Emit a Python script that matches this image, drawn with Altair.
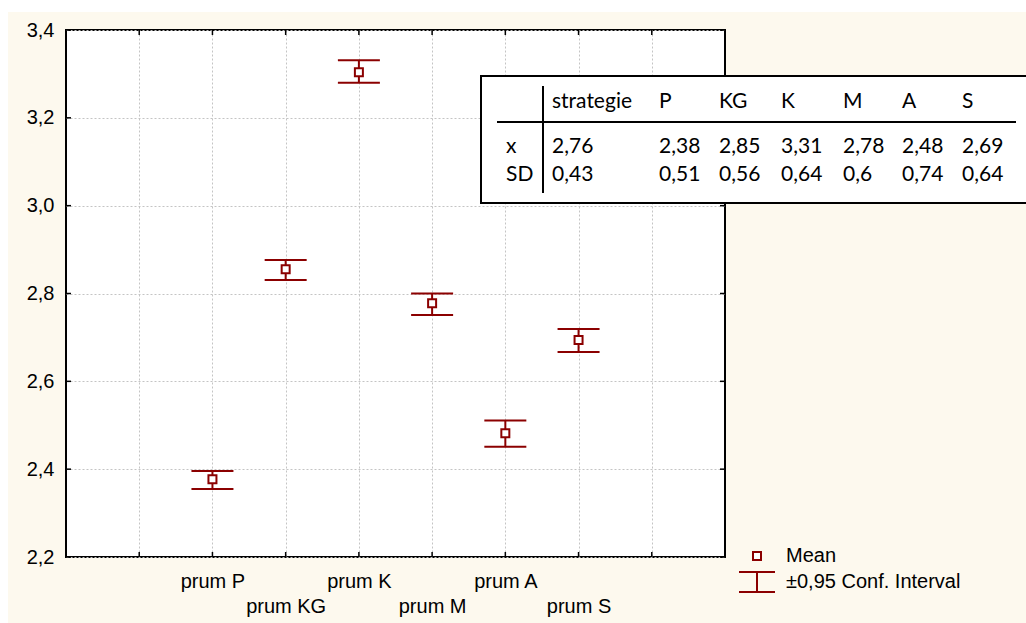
import altair as alt
import pandas as pd

# ---------------- data ----------------
categories = ["prum P", "prum KG", "prum K", "prum M", "prum A", "prum S"]
positions = [2, 3, 4, 5, 6, 7]
means = [2.377, 2.855, 3.304, 2.778, 2.482, 2.694]
lower = [2.355, 2.831, 3.280, 2.751, 2.451, 2.667]
upper = [2.396, 2.876, 3.331, 2.800, 2.511, 2.719]

grid_positions = [1, 2, 3, 4, 5, 6, 7, 8]
y_ticks = [2.2, 2.4, 2.6, 2.8, 3.0, 3.2, 3.4]

table_header = ["", "strategie", "P", "KG", "K", "M", "A", "S"]
table_row_x = ["x", "2,76", "2,38", "2,85", "3,31", "2,78", "2,48", "2,69"]
table_row_sd = ["SD", "0,43", "0,51", "0,56", "0,64", "0,6", "0,74", "0,64"]

legend_labels = ["Mean", "±0,95 Conf. Interval"]

# ---------------- layout / style ----------------
DR = "#8B0000"
CREAM = "#FDF9EE"
GRID = "#c4c4c4"
AX_FONT = "Liberation Sans"
TB_FONT = "Lato"
PL, PT = 66, 30          # plot origin in the canvas
W, H = 659, 527          # plot size
CANVAS_W, CANVAS_H = 1026, 623
TABLE_COL_X = [506, 552, 659, 719, 781, 843, 902, 962]   # canvas px
TABLE_ROW_Y = [102, 147, 175]                            # canvas px
LEG_SYM_X, LEG_TXT_X = 757, 786
LEG_ROW_Y = [556, 582]

SQ = "M-0.4,-0.4H0.4V0.4H-0.4Z"
IBEAM = "M-1.8,-1H1.8M0,-1V1M-1.8,1H1.8"

df = pd.DataFrame({
    "cat": categories, "pos": positions, "mean": means,
    "lower": lower, "upper": upper,
})
grid_df = pd.DataFrame({"p": grid_positions})
yt_df = pd.DataFrame({"v": y_ticks})

xscale = alt.Scale(domain=[0, 9], nice=False, zero=False)
yscale = alt.Scale(domain=[2.2, 3.4], nice=False, zero=False)

# x labels, staggered on two lines
items = []
for i in range(10):
    if i in positions:
        k = positions.index(i)
        name = categories[k].replace("'", "\\'")
        items.append(f"'{name}'" if k % 2 == 0 else f"['', '{name}']")
    else:
        items.append("''")
x_label_expr = "[" + ",".join(items) + "][datum.value]"

x_axis = alt.Axis(
    values=grid_positions, labelExpr=x_label_expr, title=None,
    grid=True, gridColor=GRID, gridDash=[2, 2], gridWidth=1,
    ticks=False, domain=False, labelFont=AX_FONT, labelFontSize=20,
    labelColor="black", labelPadding=14, labelLineHeight=25,
    labelOverlap=False, labelBound=False, labelFlush=False, labelBaseline="top",
)
y_axis = alt.Axis(
    values=y_ticks, labelExpr="replace(format(datum.value, '.1f'), '.', ',')",
    title=None, grid=True, gridColor=GRID, gridDash=[2, 2], gridWidth=1,
    ticks=False, domain=False, labelFont=AX_FONT, labelFontSize=20,
    labelColor="black", labelPadding=12, labelOverlap=False,
    labelBound=False, labelFlush=False,
)

one = pd.DataFrame({"a": [0]})
strip_left = alt.Chart(one).mark_rect(color="white").encode(
    x=alt.value(-PL), x2=alt.value(-PL + 8), y=alt.value(-PT), y2=alt.value(CANVAS_H - PT))
strip_top = alt.Chart(one).mark_rect(color="white").encode(
    x=alt.value(-PL), x2=alt.value(CANVAS_W - PL), y=alt.value(-PT), y2=alt.value(-PT + 12))

ticks_bottom = alt.Chart(grid_df).mark_rule(color="black", strokeWidth=1.5).encode(
    x=alt.X("p:Q", scale=xscale, axis=x_axis), y=alt.value(H - 5), y2=alt.value(H))
ticks_top = alt.Chart(grid_df).mark_rule(color="black", strokeWidth=1.5).encode(
    x=alt.X("p:Q", scale=xscale, axis=x_axis), y=alt.value(0), y2=alt.value(5))
ticks_left = alt.Chart(yt_df).mark_rule(color="black", strokeWidth=1.5).encode(
    y=alt.Y("v:Q", scale=yscale, axis=y_axis), x=alt.value(0), x2=alt.value(5))
ticks_right = alt.Chart(yt_df).mark_rule(color="black", strokeWidth=1.5).encode(
    y=alt.Y("v:Q", scale=yscale, axis=y_axis), x=alt.value(W - 5), x2=alt.value(W))

base = alt.Chart(df)
xenc = alt.X("pos:Q", scale=xscale, axis=x_axis)
stem = base.mark_rule(color=DR, strokeWidth=2).encode(
    x=xenc, y=alt.Y("lower:Q", scale=yscale, axis=y_axis), y2="upper:Q")
cap_hi = base.mark_rule(color=DR, strokeWidth=2, xOffset=-21, x2Offset=21).encode(
    x=xenc, x2="pos:Q", y=alt.Y("upper:Q", scale=yscale, axis=y_axis))
cap_lo = base.mark_rule(color=DR, strokeWidth=2, xOffset=-21, x2Offset=21).encode(
    x=xenc, x2="pos:Q", y=alt.Y("lower:Q", scale=yscale, axis=y_axis))
points = base.mark_point(shape=SQ, filled=True, fill="white", stroke=DR,
                         strokeWidth=2, size=400, opacity=1).encode(
    x=xenc, y=alt.Y("mean:Q", scale=yscale, axis=y_axis))

# legend (drawn as a small key)
leg_mean = alt.Chart(one).mark_point(shape=SQ, filled=True, fill="white", stroke=DR,
                                     strokeWidth=2, size=400, opacity=1).encode(
    x=alt.value(LEG_SYM_X - PL), y=alt.value(LEG_ROW_Y[0] - PT))
leg_ci = alt.Chart(one).mark_point(shape=IBEAM, filled=False, stroke=DR,
                                   strokeWidth=2, size=400, opacity=1).encode(
    x=alt.value(LEG_SYM_X - PL), y=alt.value(LEG_ROW_Y[1] - PT))
leg_t1 = alt.Chart(one).mark_text(text=legend_labels[0], align="left", baseline="middle",
                                  font=AX_FONT, fontSize=20, color="black").encode(
    x=alt.value(LEG_TXT_X - PL), y=alt.value(LEG_ROW_Y[0] - PT))
leg_t2 = alt.Chart(one).mark_text(text=legend_labels[1], align="left", baseline="middle",
                                  font=AX_FONT, fontSize=20, color="black").encode(
    x=alt.value(LEG_TXT_X - PL), y=alt.value(LEG_ROW_Y[1] - PT))

# table
box = alt.Chart(one).mark_rect(fill="white", stroke="black", strokeWidth=2).encode(
    x=alt.value(481 - PL), x2=alt.value(1045 - PL), y=alt.value(76 - PT), y2=alt.value(203 - PT))
hline = alt.Chart(one).mark_rule(color="black", strokeWidth=2).encode(
    x=alt.value(497 - PL), x2=alt.value(1016 - PL), y=alt.value(122 - PT))
vline = alt.Chart(one).mark_rule(color="black", strokeWidth=2).encode(
    x=alt.value(543 - PL), y=alt.value(86 - PT), y2=alt.value(193 - PT))

rows = [table_header, table_row_x, table_row_sd]
cells = []
for r, row in enumerate(rows):
    for c, txt in enumerate(row):
        cells.append({"text": txt, "cx": TABLE_COL_X[c] - PL, "cy": TABLE_ROW_Y[r] - PT})
cell_df = pd.DataFrame(cells)
table_text = alt.Chart(cell_df).mark_text(
    align="left", baseline="middle", font=TB_FONT, fontSize=21, color="black").encode(
    x=alt.X("cx:Q", scale=None), y=alt.Y("cy:Q", scale=None),
    text="text:N")

chart = alt.layer(
    strip_left, strip_top, ticks_bottom, ticks_top, ticks_left, ticks_right,
    stem, cap_hi, cap_lo, points, leg_mean, leg_ci, leg_t1, leg_t2,
    box, hline, vline, table_text,
).properties(
    width=W, height=H,
    background=CREAM,
    autosize=alt.AutoSizeParams(type="none"),
    padding={"left": PL, "top": PT, "right": CANVAS_W - PL - W, "bottom": CANVAS_H - PT - H},
).configure_view(
    stroke="black", strokeWidth=2, fill="white"
)

chart.save("out.html", embed_options={"renderer": "svg", "actions": False})
